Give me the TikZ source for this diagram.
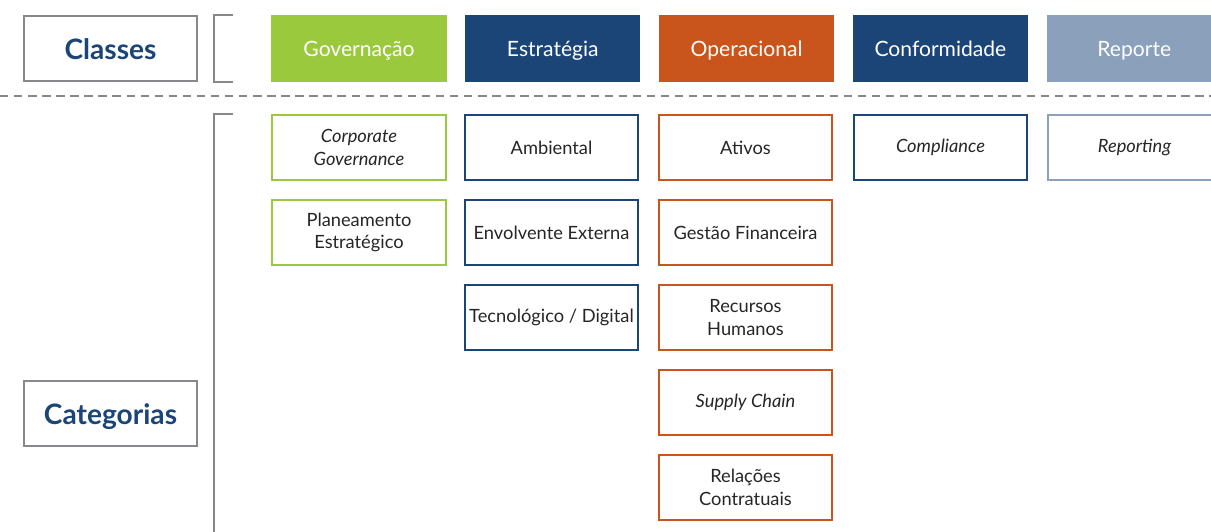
\documentclass[tikz,border=0pt]{standalone}
\usepackage{fontspec}
\setmainfont{Lato}
\usetikzlibrary{positioning}
\definecolor{verde}{HTML}{9BC93D}
\definecolor{azul}{HTML}{1C4577}
\definecolor{laranja}{HTML}{C9541C}
\definecolor{cinzaazul}{HTML}{8AA0BB}
\definecolor{cinza}{HTML}{87888C}
\definecolor{texto}{HTML}{262626}

\tikzset{
  classe/.style={fill=#1, text=white, minimum width=4.375cm, minimum height=1.675cm,
    inner sep=0pt, text height=12pt, text depth=0pt, font=\fontsize{15}{18}\selectfont},
  categ/.style={draw=#1, line width=1.4pt, fill=white, text=texto, minimum width=4.34cm,
    minimum height=1.64cm, align=center, inner sep=0pt, font=\fontsize{13}{16}\selectfont},
  titulo/.style={draw=cinza, line width=1.6pt, minimum width=4.33cm, minimum height=1.63cm,
    inner sep=0pt, text=azul, text height=15pt, text depth=0pt,
    font=\bfseries\fontsize{20}{22}\selectfont}
}

\begin{document}
\begin{tikzpicture}[x=0.025cm, y=0.025cm]
    \useasboundingbox (0,0) rectangle (1211,-532);
    \clip (0,0) rectangle (1211,-532);

    % titulos a esquerda
    \node[titulo] (classes) at (110.5,-48.5) {Classes};
    \node[titulo] (categorias) at (110.5,-413.5) {Categorias};

    % chavetas
    \draw[cinza, line width=1.6pt] (233,-15) -| (214,-82) -- (233,-82);
    \draw[cinza, line width=1.6pt] (233,-114) -| (214,-545);

    % separador
    \draw[cinza, line width=1.4pt, dash pattern=on 6pt off 4pt] (0,-96) -- (1211,-96);

    % classes
    \node[classe=verde] (gov) at (359,-48.5) {Governação};
    \node[classe=azul, right=0.455cm of gov] (est) {Estratégia};
    \node[classe=laranja, right=0.455cm of est] (oper) {Operacional};
    \node[classe=azul, right=0.455cm of oper] (conf) {Conformidade};
    \node[classe=cinzaazul, right=0.455cm of conf] (rep) {Reporte};

    % categorias - governacao
    \node[categ=verde] (corpgov) at (359,-147.5) {\itshape Corporate\\\itshape Governance};
    \node[categ=verde, below=0.435cm of corpgov] (planeam) {Planeamento\\Estratégico};

    % categorias - estrategia
    \node[categ=azul] (ambiental) at (551.5,-147.5) {Ambiental};
    \node[categ=azul, below=0.435cm of ambiental] (envolv) {Envolvente Externa};
    \node[categ=azul, below=0.435cm of envolv] (tecno) {Tecnológico / Digital};

    % categorias - operacional
    \node[categ=laranja] (ativos) at (745.5,-147.5) {Ativos};
    \node[categ=laranja, below=0.435cm of ativos] (gestfin) {Gestão Financeira};
    \node[categ=laranja, below=0.435cm of gestfin] (rechum) {Recursos\\Humanos};
    \node[categ=laranja, below=0.435cm of rechum] (supply) {\itshape Supply Chain};
    \node[categ=laranja, below=0.435cm of supply] (relcont) {Relações\\Contratuais};

    % categorias - conformidade e reporte
    \node[categ=azul] (compl) at (940.5,-147.5) {\itshape Compliance};
    \node[categ=cinzaazul] (reporting) at (1134.5,-147.5) {\itshape Reporting};
\end{tikzpicture}
\end{document}
